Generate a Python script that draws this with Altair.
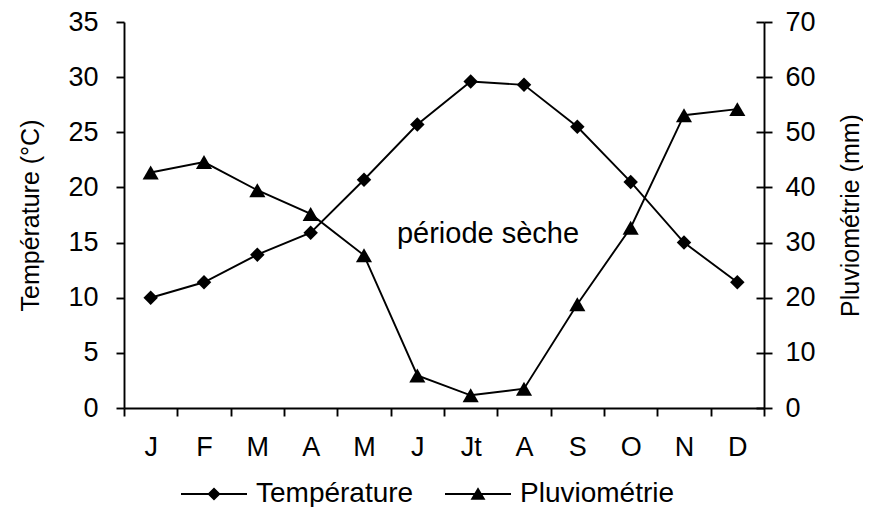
import altair as alt
import pandas as pd

months = ["J", "F", "M", "A", "M ", "J ", "Jt", "A ", "S", "O", "N", "D"]
month_labels = ["J", "F", "M", "A", "M", "J", "Jt", "A", "S", "O", "N", "D"]
temperature = [10.0, 11.4, 13.9, 15.9, 20.7, 25.7, 29.6, 29.3, 25.5, 20.5, 15.0, 11.4]
pluvio = [42.7, 44.6, 39.5, 35.2, 27.7, 5.9, 2.3, 3.5, 18.8, 32.7, 53.1, 54.2]
series = ["Température", "Pluviométrie"]
annotation = "période sèche"
temp_ticks = [0, 5, 10, 15, 20, 25, 30, 35]
pluvio_ticks = [0, 10, 20, 30, 40, 50, 60, 70]

FONT = "Liberation Sans"
FS = 29
FS_LEG = 28
FS_AX = 27
FS_TITLE = 25

df_t = pd.DataFrame({"mois": months, "val": temperature})
df_p = pd.DataFrame({"mois": months, "val": pluvio})
df_leg = pd.DataFrame({"serie": series, "val": [0, 0], "mois": [months[0], months[0]]})

label_map = "{" + ",".join(f"'{m}':'{l}'" for m, l in zip(months, month_labels)) + "}"

x_enc = alt.X(
    "mois:N",
    sort=months,
    scale=alt.Scale(type="band", domain=months, paddingInner=0, paddingOuter=0),
    axis=alt.Axis(
        title=None,
        tickBand="extent",
        labelExpr=f"{label_map}[datum.value]",
        labelAngle=0,
        tickSize=8,
        labelPadding=18,
    ),
)

y_t = alt.Y(
    "val:Q",
    scale=alt.Scale(domain=[0, 35], nice=False, zero=True),
    axis=alt.Axis(
        title="Température (°C)",
        values=temp_ticks,
        orient="left",
        tickSize=8,
        labelPadding=18,
        titleBaseline="middle",
        titleX=-94,
        titleY=193,
        titleAngle=270,
    ),
)

y_p = alt.Y(
    "val:Q",
    scale=alt.Scale(domain=[0, 70], nice=False, zero=True),
    axis=alt.Axis(
        title="Pluviométrie (mm)",
        values=pluvio_ticks,
        orient="right",
        tickSize=8,
        labelPadding=13,
        titleBaseline="middle",
        titleX=86,
        titleY=193,
        titleAngle=270,
    ),
)

# inner half of the right axis's crossing ticks
y_p_inner = alt.Y(
    "val:Q",
    scale=alt.Scale(domain=[0, 70], nice=False, zero=True),
    axis=alt.Axis(
        title=None,
        values=pluvio_ticks,
        orient="right",
        tickSize=8,
        offset=-8,
        labels=False,
        domain=False,
    ),
)

t_line = alt.Chart(df_t).mark_line(color="black", strokeWidth=1.9).encode(x=x_enc, y=y_t)
t_pts = alt.Chart(df_t).mark_point(shape="diamond", filled=True, color="black", size=210, opacity=1).encode(x=x_enc, y=y_t)

leg_paths = [
    "M-3,-0.08H3V0.08H-3ZM0,-0.6L0.6,0L0,0.6L-0.6,0Z",
    "M-3,-0.08H3V0.08H-3ZM0,-0.62L0.68,0.52L-0.68,0.52Z",
]
t_leg = alt.Chart(df_leg).mark_point(
    filled=True, color="black", size=484, opacity=0
).encode(
    x=x_enc,
    y=y_t,
    shape=alt.Shape(
        "serie:N",
        sort=series,
        scale=alt.Scale(domain=series, range=leg_paths),
        legend=alt.Legend(
            title=None,
            orient="none",
            direction="horizontal",
            legendX=76,
            legendY=458,
            symbolSize=484,
            symbolOpacity=1,
            symbolFillColor="black",
            symbolStrokeWidth=0,
            labelOffset=28,
            columnPadding=31,
            labelFontSize=FS_LEG,
            labelFont=FONT,
            labelColor="black",
            labelLimit=400,
            padding=0,
        ),
    ),
)

txt = alt.Chart(pd.DataFrame({"t": [annotation]})).mark_text(
    font=FONT, fontSize=FS, color="black", align="center", baseline="middle"
).encode(text="t:N", x=alt.value(364), y=alt.datum(15.8))

p_line = alt.Chart(df_p).mark_line(color="black", strokeWidth=1.9).encode(x=x_enc, y=y_p)
p_pts = alt.Chart(df_p).mark_point(shape="triangle-up", filled=True, color="black", size=260, opacity=1).encode(x=x_enc, y=y_p)
p_inner = alt.Chart(df_p).mark_point(opacity=0).encode(x=x_enc, y=y_p_inner)

left = alt.layer(t_line, t_pts, t_leg, txt)
right = alt.layer(p_line, p_pts)

chart = (
    alt.layer(left, right, p_inner)
    .resolve_scale(y="independent", shape="independent")
    .properties(
        width=640,
        height=386,
        autosize=alt.AutoSizeParams(type="none"),
        padding={"left": 116, "top": 14, "right": 99, "bottom": 99},
    )
    .configure(font=FONT)
    .configure_view(stroke=None)
    .configure_axis(
        grid=False,
        domainColor="black",
        domainWidth=1.9,
        tickColor="black",
        tickWidth=1.9,
        labelFont=FONT,
        labelFontSize=FS_AX,
        labelColor="black",
        titleFont=FONT,
        titleFontSize=FS_TITLE,
        titleFontWeight="normal",
        titleColor="black",
    )
)

chart.save("out.html", embed_options={"renderer": "svg", "actions": False})
